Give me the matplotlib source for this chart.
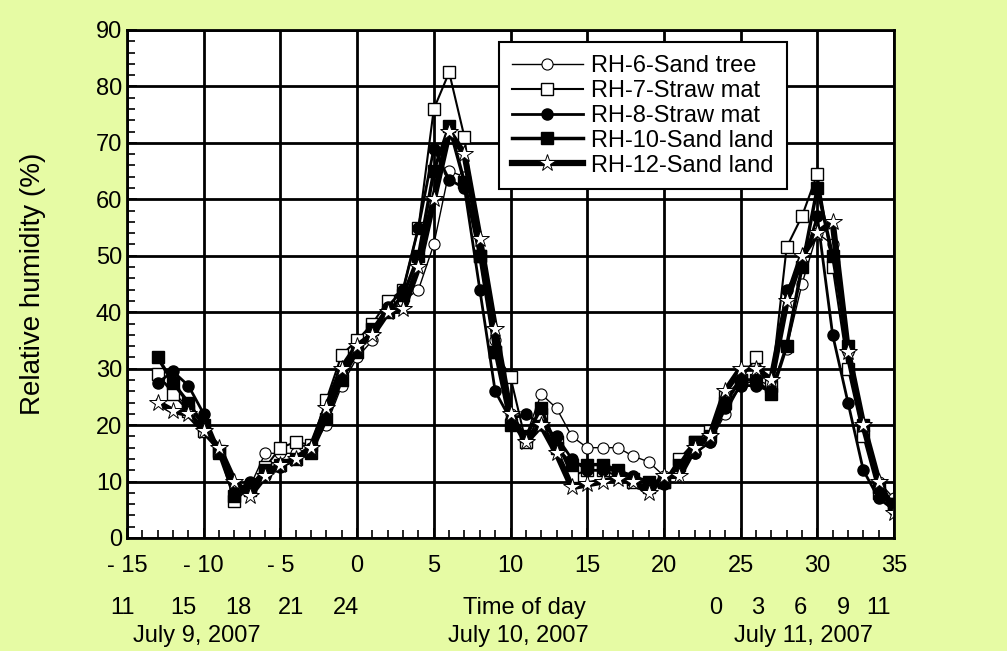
import matplotlib
matplotlib.use("Agg")
import matplotlib.pyplot as plt
from matplotlib.ticker import MultipleLocator

hours = list(range(-13, 36))

rh6 = [29, 26, 23, 20, 15, 8, 9, 15, 15, 15, 16, 20, 27, 32, 35, 40, 42, 44, 52, 65, 64, 50, 35, 22,
       18, 25.5, 23, 18, 16, 16, 16, 14.5, 13.5, 11, 12, 15, 17, 22, 27, 28, 27, 33.5, 45, 54, 52, 33, 19, 10, 7]
rh7 = [29, 25.5, 22.5, 19, 15.5, 6.5, 9, 12.5, 16, 17, 16.5, 24.5, 32.5, 35, 38, 42, 44, 55, 76, 82.5, 71, 50, 33, 28.5,
       17, 22, 17, 11, 12, 12, 11, 10, 9, 10, 14, 17, 19, 25, 28, 32, 27, 51.5, 57, 64.5, 48, 30, 18, 8, 6]
rh8 = [27.5, 29.5, 27, 22, 15.5, 8, 10, 11, 12.5, 14, 16, 21, 29, 33, 37, 41, 44, 55, 69, 63.5, 62, 44, 26, 21,
       22, 20, 18, 14, 12, 12, 12, 11, 10, 9.5, 13, 15, 17, 23, 27, 27, 26, 44, 48, 57, 36, 24, 12, 7, 5]
rh10 = [32, 27.5, 24, 20, 15, 7.5, 8.5, 12, 13, 14, 15, 21, 28, 33, 37, 40, 43, 50, 65, 73, 63, 50, 33, 20,
        18, 23, 16, 13, 13, 13, 12, 10.5, 10, 10, 13, 17, 18, 24, 28, 28, 25.5, 34, 48, 62, 50, 34, 20, 9, 6]
rh12 = [24, 22.5, 22, 19, 16, 10, 7.5, 11, 13, 14, 16, 23, 30, 34, 36, 40, 40.5, 48, 60, 72, 68, 53, 37, 22,
        17, 20, 15, 9, 9.5, 10, 10.5, 10, 8, 11, 11, 16, 18, 26, 30, 30, 28, 42, 50, 54, 56, 33, 20, 10, 4.5]

labels = ["RH-6-Sand tree", "RH-7-Straw mat", "RH-8-Straw mat", "RH-10-Sand land", "RH-12-Sand land"]

x_ticks = list(range(-15, 40, 5))
x_tick_labels = ["- 15", "- 10", "- 5", "0", "5", "10", "15", "20", "25", "30", "35"]
time_labels = [("11", 123), ("15", 183), ("18", 238), ("21", 291), ("24", 346),
               ("Time of day", 524), ("0", 716), ("3", 758), ("6", 800), ("9", 843), ("11", 878)]
date_labels = [("July 9, 2007", 197), ("July 10, 2007", 518), ("July 11, 2007", 803)]

FONT = ["Liberation Sans", "DejaVu Sans"]
plt.rcParams['font.family'] = FONT

W, H = 1007, 651
fig = plt.figure(figsize=(W / 100, H / 100), dpi=100, facecolor="#E6FBA4")
ax = fig.add_axes([127 / W, 1 - 538 / H, (894 - 127) / W, (538 - 30) / H])
ax.set_facecolor("white")

styles = [
    dict(lw=1.0, marker="o", ms=8, mfc="white", mec="black", mew=0.8),
    dict(lw=1.5, marker="s", ms=8, mfc="white", mec="black", mew=1.0),
    dict(lw=2.0, marker="o", ms=8, mfc="black", mec="black"),
    dict(lw=2.5, marker="s", ms=8, mfc="black", mec="black"),
    dict(lw=4.5, marker="*", ms=13, mfc="white", mec="black", mew=0.7),
]
for data, lab, st in zip([rh6, rh7, rh8, rh10, rh12], labels, styles):
    ax.plot(hours, data, color="black", label=lab, **st)

ax.set_xlim(-15, 35)
ax.set_ylim(0, 90)
ax.set_xticks(x_ticks)
ax.set_xticklabels(x_tick_labels)
ax.xaxis.set_minor_locator(MultipleLocator(1))
ax.yaxis.set_major_locator(MultipleLocator(10))
ax.yaxis.set_minor_locator(MultipleLocator(2))
ax.grid(True, which="major", color="black", lw=2)
ax.tick_params(which="both", direction="in", labelsize=17, width=1.2)
ax.tick_params(which="major", length=7)
ax.tick_params(which="minor", length=6)
ax.tick_params(axis="x", pad=12)
for sp in ax.spines.values():
    sp.set_linewidth(2)
ax.set_ylabel("Relative humidity (%)", fontsize=20)
ax.yaxis.set_label_coords(-0.105, 0.5)

leg = ax.legend(loc="upper left", bbox_to_anchor=(0.485, 0.976), fontsize=17, frameon=True,
                fancybox=False, edgecolor="black", framealpha=1, borderpad=0.55,
                labelspacing=0.12, handlelength=3.0, handletextpad=0.35, borderaxespad=0)
leg.get_frame().set_linewidth(1.5)
leg.set_zorder(5)

for txt, px in time_labels:
    fig.text(px / W, 1 - 608 / H, txt, ha="center", va="center", fontsize=17)
for txt, px in date_labels:
    fig.text(px / W, 1 - 636 / H, txt, ha="center", va="center", fontsize=17)

fig.savefig("out.png", dpi=100, facecolor=fig.get_facecolor())
